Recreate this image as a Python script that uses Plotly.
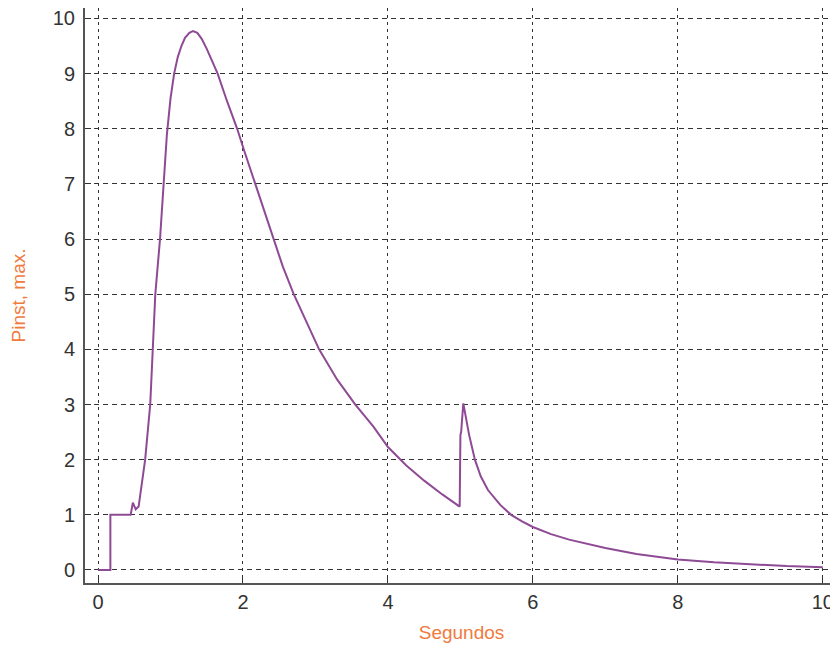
import plotly.graph_objects as go

# Time (s) and instantaneous max power values
t = [0.0, 0.17, 0.17, 0.45, 0.48, 0.52, 0.56, 0.60, 0.65, 0.72, 0.755, 0.79,
     0.855, 0.91, 0.95, 1.00, 1.05, 1.10, 1.15, 1.20, 1.26, 1.31, 1.37, 1.43,
     1.50, 1.57, 1.65, 1.78, 1.92, 2.00, 2.17, 2.30, 2.42, 2.55, 2.70, 2.87,
     3.05, 3.30, 3.55, 3.80, 4.00, 4.25, 4.50, 4.75, 4.99,
     5.00, 5.01, 5.04, 5.08, 5.12, 5.20, 5.28, 5.38, 5.45, 5.55, 5.70, 5.85,
     6.00, 6.25, 6.50, 7.00, 7.43, 8.00, 8.50, 9.00, 9.50, 10.0]
p = [0.0, 0.0, 1.0, 1.0, 1.22, 1.10, 1.15, 1.50, 2.0, 3.0, 4.0, 5.0,
     6.0, 7.0, 7.9, 8.55, 9.0, 9.3, 9.5, 9.65, 9.74, 9.77, 9.74, 9.63,
     9.45, 9.24, 9.0, 8.5, 8.0, 7.67, 7.0, 6.5, 6.0, 5.5, 5.0, 4.5,
     4.0, 3.45, 3.0, 2.6, 2.23, 1.9, 1.62, 1.37, 1.15,
     2.45, 2.50, 3.02, 2.75, 2.45, 2.00, 1.70, 1.45, 1.33, 1.18, 1.00, 0.88,
     0.78, 0.65, 0.55, 0.40, 0.29, 0.19, 0.14, 0.10, 0.07, 0.05]

x_ticks = [0, 2, 4, 6, 8, 10]
y_ticks = [0, 1, 2, 3, 4, 5, 6, 7, 8, 9, 10]

fig = go.Figure()
fig.add_trace(go.Scatter(x=t, y=p, mode="lines",
                         line=dict(color="#8e4a94", width=2),
                         showlegend=False))

tickfont = dict(family="Liberation Sans, Arial, sans-serif", size=20, color="#333333")
titlefont = dict(family="Liberation Sans, Arial, sans-serif", size=19, color="#f07a3c")

# page body adds an 8px offset, so the figure is sized 830x646
fig.update_layout(
    width=830, height=646,
    margin=dict(l=77, r=0, t=0, b=71),
    paper_bgcolor="white", plot_bgcolor="white",
    xaxis=dict(range=[-0.18, 10.21], tickvals=x_ticks, ticks="inside", ticklen=6,
               tickcolor="#333", showline=True, linecolor="#555", linewidth=2,
               showgrid=True, gridcolor="#333", gridwidth=1, griddash="3px,4px",
               zeroline=False, tickfont=tickfont, automargin=False,
               ticklabeloverflow="allow",
               title=dict(text="Segundos", font=titlefont, standoff=14)),
    yaxis=dict(range=[-0.236, 10.19], tickvals=y_ticks, ticks="inside", ticklen=6,
               tickcolor="#333", showline=True, linecolor="#555", linewidth=2,
               showgrid=True, gridcolor="#333", gridwidth=1, griddash="5px,4px",
               zeroline=False, tickfont=tickfont, automargin=False,
               ticklabelstandoff=4, ticklabeloverflow="allow",
               title=dict(text="Pinst, max.", font=titlefont, standoff=34)),
)

fig.write_html("out.html")
